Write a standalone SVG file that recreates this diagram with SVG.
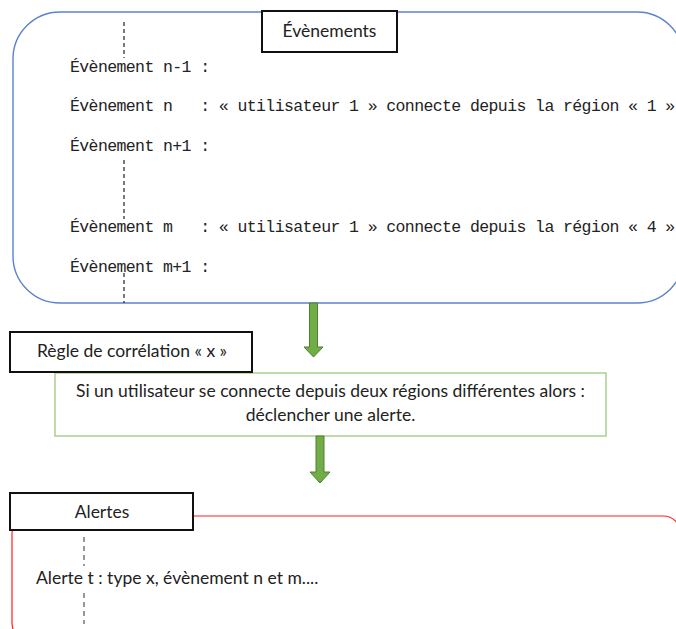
<svg xmlns="http://www.w3.org/2000/svg" width="676" height="629" viewBox="0 0 676 629">
<style>
.mono{font-family:"Liberation Mono","DejaVu Sans Mono",monospace;font-size:16.5px;letter-spacing:-0.6px;fill:#222}
.sans{font-family:Lato,"Liberation Sans",sans-serif;font-size:17.5px;fill:#222}
.title{fill:#fff;stroke:#111;stroke-width:2}
.dash{stroke:#222;stroke-width:1.2;stroke-dasharray:4 3;fill:none}
.gdash{stroke:#7f7f7f;stroke-width:1.6;stroke-dasharray:5 4;fill:none}
.arrow{fill:#70AD47;stroke:#507E32;stroke-width:1}
</style>
<rect width="676" height="629" fill="#fff"/>
<g id="events">
<rect x="13" y="12" width="671" height="291" rx="47" ry="47" fill="none" stroke="#5B82CF" stroke-width="1.4"/>
<line class="dash" x1="124" y1="22" x2="124" y2="58"/>
<line class="dash" x1="124" y1="160" x2="124" y2="219"/>
<line class="dash" x1="124" y1="273" x2="124" y2="303"/>
<text class="mono" x="70" y="72" xml:space="preserve">Évènement n-1 :</text>
<text class="mono" x="70" y="111" xml:space="preserve">Évènement n   : « utilisateur 1 » connecte depuis la région « 1 »</text>
<text class="mono" x="70" y="151" xml:space="preserve">Évènement n+1 :</text>
<text class="mono" x="70" y="232" xml:space="preserve">Évènement m   : « utilisateur 1 » connecte depuis la région « 4 »</text>
<text class="mono" x="70" y="272" xml:space="preserve">Évènement m+1 :</text>
<rect class="title" x="262" y="11" width="135" height="41"/>
<text class="sans" x="329.5" y="37" text-anchor="middle">Évènements</text>
</g>
<g id="rule">
<rect x="55" y="373" width="551" height="63" fill="#fff" stroke="#A9D18E" stroke-width="1.5"/>
<text class="sans" x="330.5" y="397" text-anchor="middle">Si un utilisateur se connecte depuis deux régions différentes alors :</text>
<text class="sans" x="330.5" y="421" text-anchor="middle">déclencher une alerte.</text>
<rect class="title" x="10" y="332" width="242" height="40"/>
<text class="sans" x="132" y="357" text-anchor="middle">Règle de corrélation « x »</text>
</g>
<g id="alerts">
<rect x="12" y="516" width="669" height="125" rx="18" ry="18" fill="none" stroke="#FF2020" stroke-width="1.2"/>
<line class="gdash" x1="84" y1="537" x2="84" y2="566"/>
<line class="gdash" x1="84" y1="593" x2="84" y2="624"/>
<text class="sans" x="36" y="584">Alerte t : type x, évènement n et m....</text>
<rect class="title" x="10" y="493" width="183" height="37"/>
<text class="sans" x="102" y="518" text-anchor="middle">Alertes</text>
</g>
<g id="connectors">
<path class="arrow" d="M309.5,303 H317.5 V347 H323 L313.5,357 L304,347 H309.5 Z"/>
<path class="arrow" d="M316,436 H324 V472 H330 L320,483 L310,472 H316 Z"/>
</g>
</svg>
